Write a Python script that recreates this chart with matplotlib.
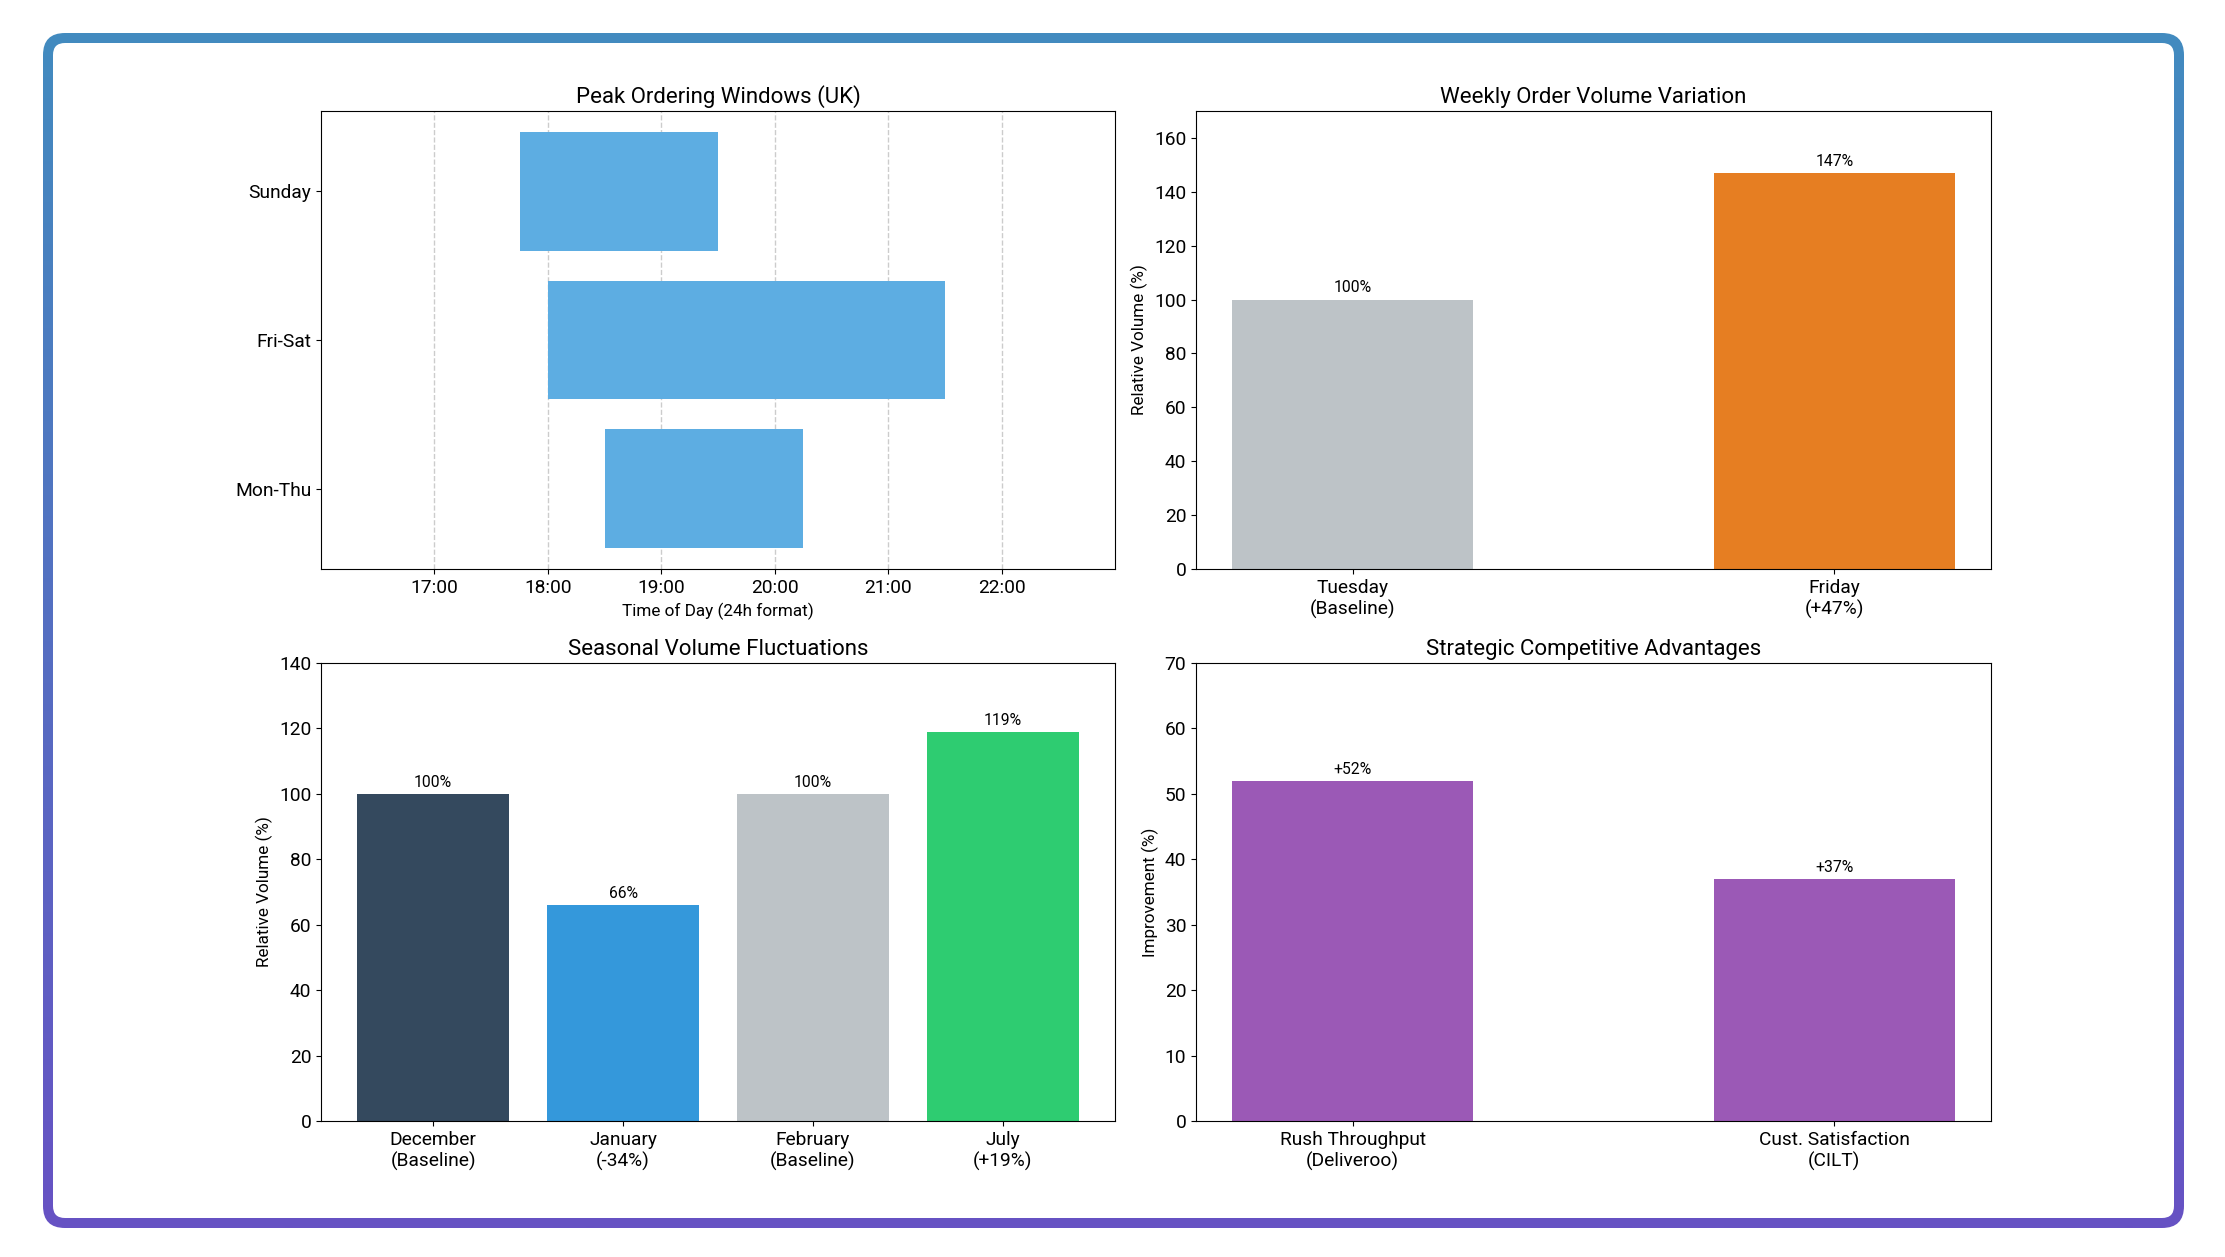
import matplotlib
matplotlib.use("Agg")
import matplotlib.pyplot as plt
import numpy as np
from matplotlib.patches import FancyBboxPatch

plt.rcParams['font.family'] = ['Roboto', 'DejaVu Sans']

# ---- data ----
peak_days = ["Mon-Thu", "Fri-Sat", "Sunday"]
peak_start = [18.5, 18.0, 17.75]
peak_end = [20.25, 21.5, 19.5]
hour_ticks = [17, 18, 19, 20, 21, 22]
hour_labels = ["17:00", "18:00", "19:00", "20:00", "21:00", "22:00"]

weekly_labels = ["Tuesday\n(Baseline)", "Friday\n(+47%)"]
weekly_values = [100, 147]
weekly_colors = ["#BDC3C7", "#E67E22"]

season_labels = ["December\n(Baseline)", "January\n(-34%)", "February\n(Baseline)", "July\n(+19%)"]
season_values = [100, 66, 100, 119]
season_colors = ["#34495E", "#3498DB", "#BDC3C7", "#2ECC71"]

adv_labels = ["Rush Throughput\n(Deliveroo)", "Cust. Satisfaction\n(CILT)"]
adv_values = [52, 37]
adv_color = "#9B59B6"

W, H = 2225, 1257
fig = plt.figure(figsize=(W / 100, H / 100), dpi=100)
fig.patch.set_facecolor("white")

# ---- gradient border ----
bg = fig.add_axes([0, 0, 1, 1], zorder=-5)
bg.set_xlim(0, W)
bg.set_ylim(H, 0)
bg.axis("off")
x0, y0, x1, y1 = 43, 33, 2184, 1228
grad = np.linspace(0, 1, 256).reshape(-1, 1)
top = np.array([66, 139, 191]) / 255
bot = np.array([103, 82, 196]) / 255
img = top[None, None, :] * (1 - grad[:, :, None]) + bot[None, None, :] * grad[:, :, None]
im = bg.imshow(img, extent=(x0, x1, y1, y0), aspect="auto", interpolation="bilinear")
outer = FancyBboxPatch((x0, y0), x1 - x0, y1 - y0,
                       boxstyle="round,pad=0,rounding_size=22",
                       transform=bg.transData, facecolor="none", edgecolor="none")
bg.add_patch(outer)
im.set_clip_path(outer)
t = 10
inner = FancyBboxPatch((x0 + t, y0 + t), x1 - x0 - 2 * t, y1 - y0 - 2 * t,
                       boxstyle="round,pad=0,rounding_size=12",
                       transform=bg.transData, facecolor="white", edgecolor="none")
bg.add_patch(inner)

def ax_at(l, tp, r, b):
    return fig.add_axes([l / W, 1 - b / H, (r - l) / W, (b - tp) / H])

TITLE = 16
TICK = 13.8
LAB = 12.3
VAL = 11.3

# ---- top-left: peak windows ----
ax1 = ax_at(321, 111, 1115, 569)
ax1.barh(peak_days, np.array(peak_end) - np.array(peak_start), left=peak_start,
         height=0.8, color="#5DADE2")
ax1.set_xlim(16, 23)
ax1.set_xticks(hour_ticks)
ax1.set_xticklabels(hour_labels)
ax1.grid(axis="x", linestyle="--", color="#cccccc", linewidth=1)
ax1.set_axisbelow(True)
ax1.set_xlabel("Time of Day (24h format)", fontsize=LAB)
ax1.set_title("Peak Ordering Windows (UK)", fontsize=TITLE)
ax1.tick_params(labelsize=TICK)

def bar_panel(ax, labels, values, colors, width, ylim, title, ylabel, fmt):
    x = np.arange(len(labels))
    ax.bar(x, values, width=width, color=colors)
    ax.set_xticks(x)
    ax.set_xticklabels(labels)
    ax.set_ylim(*ylim)
    ax.set_title(title, fontsize=TITLE)
    ax.set_ylabel(ylabel, fontsize=LAB)
    ax.tick_params(labelsize=TICK)
    for xi, v in zip(x, values):
        ax.annotate(fmt.format(v), (xi, v), xytext=(0, 3), textcoords="offset points",
                    ha="center", va="bottom", fontsize=VAL)

ax2 = ax_at(1196, 111, 1991, 569)
bar_panel(ax2, weekly_labels, weekly_values, weekly_colors, 0.5, (0, 170),
          "Weekly Order Volume Variation", "Relative Volume (%)", "{}%")

ax3 = ax_at(321, 663, 1115, 1121)
bar_panel(ax3, season_labels, season_values, season_colors, 0.8, (0, 140),
          "Seasonal Volume Fluctuations", "Relative Volume (%)", "{}%")

ax4 = ax_at(1196, 663, 1991, 1121)
bar_panel(ax4, adv_labels, adv_values, [adv_color] * 2, 0.5, (0, 70),
          "Strategic Competitive Advantages", "Improvement (%)", "+{}%")

fig.savefig("out.png", dpi=100, facecolor="white")
